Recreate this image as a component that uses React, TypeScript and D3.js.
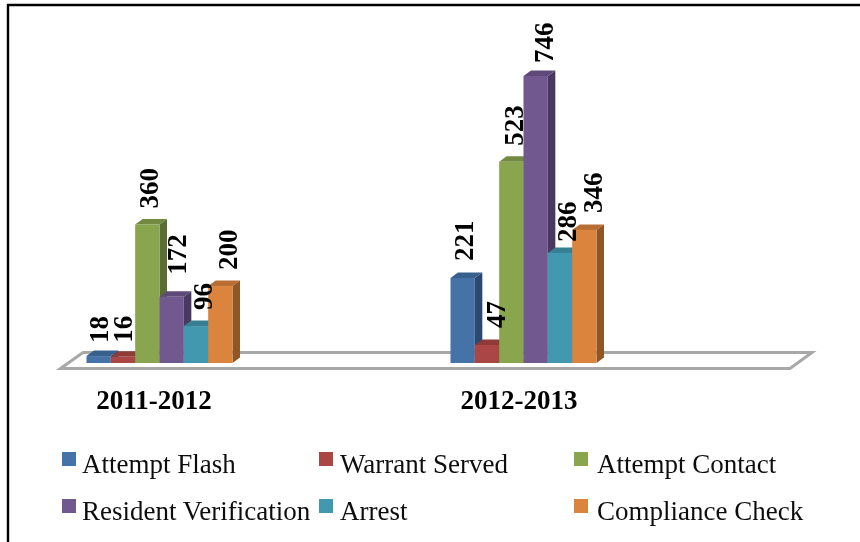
import React from "react";
import * as d3 from "d3";

const periods = ["2011-2012", "2012-2013"];
const seriesNames = ["Attempt Flash", "Warrant Served", "Attempt Contact", "Resident Verification", "Arrest", "Compliance Check"];
const values2011 = [18, 16, 360, 172, 96, 200];
const values2012 = [221, 47, 523, 746, 286, 346];
const fronts = ["#4573a7", "#aa4644", "#89a54e", "#71588f", "#4298af", "#db843d"];
const sides = ["#2b4a70", "#702d2c", "#5a6d33", "#4a395e", "#2b6473", "#8f5628"];
const tops = ["#38608c", "#8f3a39", "#728a41", "#5e4a78", "#377f92", "#b86e32"];
const allValues = [values2011, values2012];

// label placement relative to each bar (horizontal shift, gap above the bar)
const labelShift = [[0.5, 0, 1.5, 5.5, 7, 7], [1.5, 9, 2.5, 8.5, 7, 8]];
const labelGap = [[13, 14, 16, 22, 16, 16], [17, 17, 16, 13, 11, 17]];

const W = 860, H = 542;
const y = d3.scaleLinear().domain([0, 746]).range([363, 76]);
const x0 = d3.scaleOrdinal<string, number>().domain(periods).range([86.5, 450.5]);
const x1 = d3.scaleBand<number>().domain(d3.range(6)).range([0, 146]);
const dx = 7.5, dy = 5.5;
const serif = "'Liberation Serif', 'Times New Roman', serif";

const legendSwatchX = [62, 319, 574];
const legendTextX = [82, 340, 597];
const legendSwatchY = [452, 499];
const legendBaseline = [473, 519.5];

export default function App() {
  const bw = x1.bandwidth();
  return (
    <svg width={W} height={H} viewBox={`0 0 ${W} ${H}`} style={{ position: "absolute", left: 0, top: 0, background: "#fff" }}>
      <defs>
        <filter id="soft" x="-2%" y="-2%" width="104%" height="104%">
          <feGaussianBlur stdDeviation="0.45" />
        </filter>
      </defs>
      <g filter="url(#soft)">
        <path d="M8 542V5H860" fill="none" stroke="#000" strokeWidth={2.4} />
        <polygon points="60.5,368.5 83,352.5 812,352.5 790,368.5" fill="#fff" stroke="#a8a8a8" strokeWidth={3} />
        {allValues.map((vals, g) => {
          const gx = x0(periods[g])!;
          return vals.map((v, i) => {
            const x = gx + x1(i)!;
            const t = y(v), b = y(0);
            const r = x + bw;
            return (
              <g key={`${g}-${i}`}>
                <polygon points={`${x},${t} ${x + dx},${t - dy} ${r + dx},${t - dy} ${r},${t}`} fill={tops[i]} />
                <polygon points={`${r},${t} ${r + dx},${t - dy} ${r + dx},${b - dy} ${r},${b}`} fill={sides[i]} />
                <rect x={x} y={t} width={bw} height={b - t} fill={fronts[i]} />
              </g>
            );
          });
        })}
        {allValues.map((vals, g) => {
          const gx = x0(periods[g])!;
          return vals.map((v, i) => {
            const cx = gx + x1(i)! + bw / 2 + labelShift[g][i];
            const ty = y(v) - labelGap[g][i];
            return (
              <text key={`l${g}-${i}`} transform={`translate(${cx},${ty}) rotate(-90)`} fontFamily={serif} fontSize={27} fontWeight={700} dy="0.34em" fill="#000">{v}</text>
            );
          });
        })}
        {periods.map((p, g) => (
          <text key={p} x={g === 0 ? 154 : 519} y={409} textAnchor="middle" fontFamily={serif} fontSize={27} fontWeight={700} fill="#000">{p}</text>
        ))}
        {seriesNames.map((s, i) => {
          const col = i % 3, row = Math.floor(i / 3);
          return (
            <g key={s}>
              <rect x={legendSwatchX[col]} y={legendSwatchY[row]} width={14} height={14} fill={fronts[i]} />
              <text x={legendTextX[col]} y={legendBaseline[row]} fontFamily={serif} fontSize={27} fill="#111">{s}</text>
            </g>
          );
        })}
      </g>
    </svg>
  );
}
